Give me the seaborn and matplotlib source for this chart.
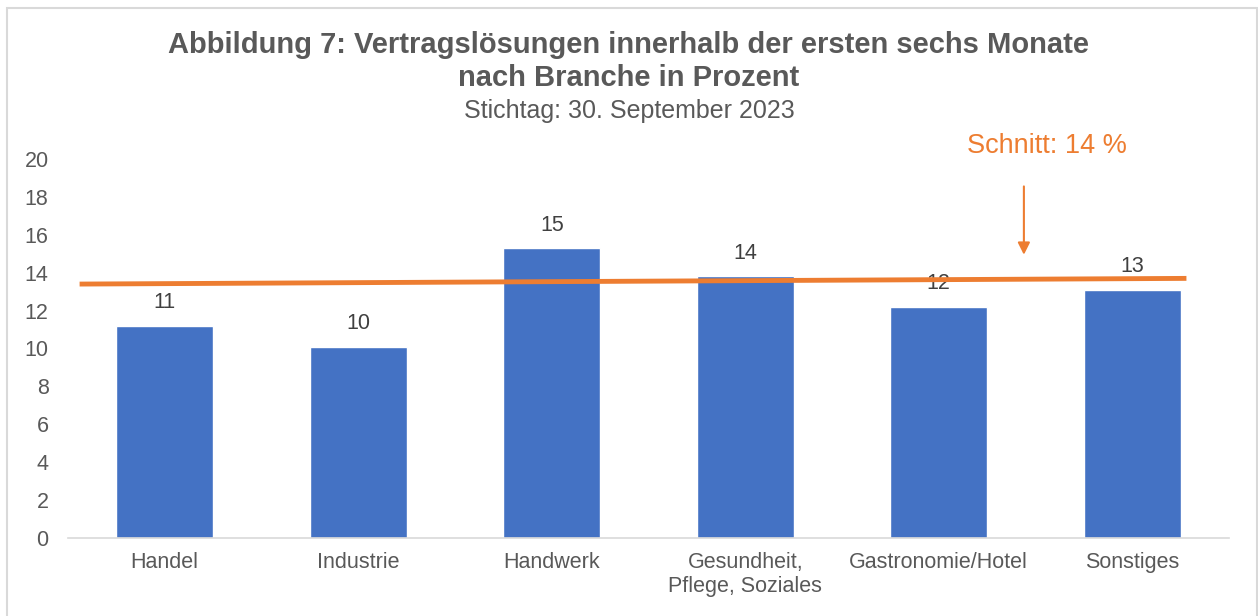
import matplotlib
matplotlib.use("Agg")
import matplotlib.pyplot as plt
import pandas as pd
import seaborn as sns
from matplotlib.patches import Rectangle

# data
branchen = ["Handel", "Industrie", "Handwerk", "Gesundheit,\nPflege, Soziales",
            "Gastronomie/Hotel", "Sonstiges"]
werte = [11.2, 10.1, 15.3, 13.8, 12.2, 13.1]
labels = ["11", "10", "15", "14", "12", "13"]

# average line as drawn (slightly tilted, like in the original)
schnitt_x = [-0.44, 5.28]
schnitt_y = [13.4, 13.7]
pfeil_x = 4.44
pfeil_y = [18.7, 14.8]
schnitt_text = "Schnitt: 14 %"

BLUE = "#4472C4"
ORANGE = "#ED7D31"
GREY = "#595959"

sns.set_style("white")
plt.rcParams["font.family"] = ["Liberation Sans", "DejaVu Sans"]

df = pd.DataFrame({"branche": branchen, "wert": werte})

fig = plt.figure(figsize=(12.58, 6.16), dpi=100)
ax = fig.add_axes([68 / 1258, 1 - 538 / 616, (1229 - 68) / 1258, (538 - 159) / 616])

sns.barplot(data=df, x="branche", y="wert", color=BLUE, saturation=1,
            width=0.5, ax=ax, zorder=2)

for i, (v, lab) in enumerate(zip(werte, labels)):
    ax.text(i, v + 0.65, lab, ha="center", va="bottom", fontsize=15.5, color="#404040")

ax.plot(schnitt_x, schnitt_y, color=ORANGE, lw=3.5, zorder=3, solid_capstyle="butt")
ax.annotate("", xy=(pfeil_x, pfeil_y[1]), xytext=(pfeil_x, pfeil_y[0]),
            arrowprops=dict(arrowstyle="-|>", color=ORANGE, lw=1.5, mutation_scale=18),
            annotation_clip=False)
ax.text(pfeil_x + 0.12, 20.7, schnitt_text, ha="center", va="center",
        fontsize=19.5, color=ORANGE, clip_on=False)

ax.set_xlim(-0.5, 5.5)
ax.set_ylim(0, 20)
ax.set_yticks(range(0, 21, 2))
ax.set_xlabel("")
ax.set_ylabel("")
ax.tick_params(axis="both", length=0, labelsize=15.5, labelcolor=GREY)
ax.tick_params(axis="y", pad=14)
ax.tick_params(axis="x", pad=10)
for s in ["top", "right", "left"]:
    ax.spines[s].set_visible(False)
ax.spines["bottom"].set_color("#D9D9D9")
ax.spines["bottom"].set_linewidth(1.2)

fig.text(0.5, 1 - 45 / 616, "Abbildung 7: Vertragslösungen innerhalb der ersten sechs Monate",
         ha="center", va="center", fontsize=21, fontweight="bold", color=GREY)
fig.text(0.5, 1 - 78 / 616, "nach Branche in Prozent",
         ha="center", va="center", fontsize=21, fontweight="bold", color=GREY)
fig.text(0.5, 1 - 111 / 616, "Stichtag: 30. September 2023",
         ha="center", va="center", fontsize=18, color=GREY)

fig.patches.append(Rectangle((7 / 1258, -0.05), 1250 / 1258, 1.05 - 8 / 616,
                             transform=fig.transFigure, fill=False,
                             edgecolor="#D9D9D9", lw=1.5))

fig.savefig("out.png", dpi=100)
